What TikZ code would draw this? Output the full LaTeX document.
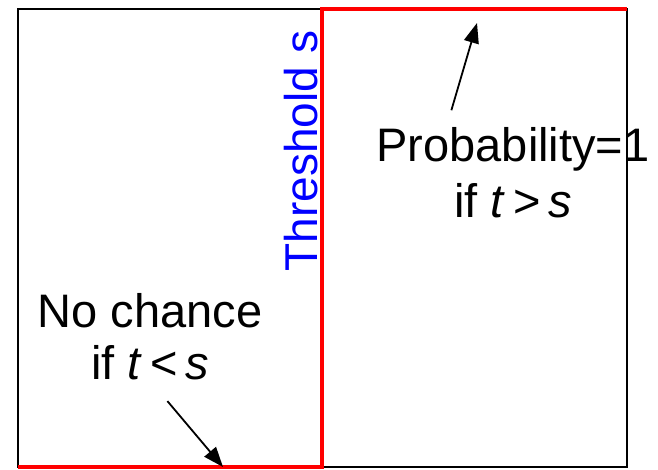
\documentclass[tikz,border=0pt]{standalone}
\usepackage{fontspec}
\setmainfont{Liberation Sans}
\usetikzlibrary{arrows.meta,calc}
\definecolor{Limit}{HTML}{FF0000}
\definecolor{Label}{HTML}{0000FF}
\tikzset{
  frame/.style={draw=black, line width=2pt},
  jump/.style={draw=Limit, line width=4.5pt},
  pointer/.style={-{Triangle[length=20pt,width=15pt]}, line width=1.8pt},
  note/.style={align=center, inner sep=0pt},
}

\begin{document}
\begin{tikzpicture}[x=1pt, y=-1pt]
  \useasboundingbox (0,0) rectangle (658,469);
  \draw[frame] (18,9) rectangle (627,467);
  % step of the probability at the threshold
  \draw[jump] (18,467) -- (322,467) -- (322,9) -- (627,9);

  \node[note, rotate=90, anchor=base, text=Label,
        font=\fontsize{46}{55}\selectfont] (thresh) at (317,151) {Threshold s};

  \node[note, font=\fontsize{47}{56}\selectfont] (probone) at (513,173) {
    Probability=1\\
    if \textit{t}\,>\,\textit{s}
  };
  \node[note, font=\fontsize{47}{52}\selectfont] (nochance) at (150,337) {
    No chance\\
    if \textit{t}\,<\,\textit{s}
  };

  \coordinate (hightip) at (477,23);
  \coordinate (lowtip) at (223,467);
  \draw[pointer, shorten <=18pt] ([xshift=70pt]probone.north west) -- (hightip);
  \draw[pointer, shorten <=27pt] (nochance.south) -- (lowtip);
\end{tikzpicture}
\end{document}
